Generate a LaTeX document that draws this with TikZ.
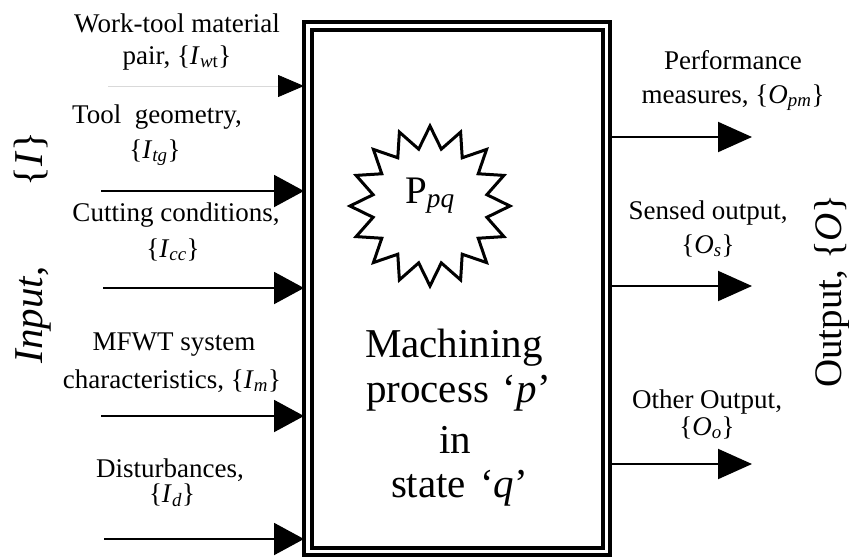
\documentclass[tikz,border=0pt]{standalone}
\usepackage{fontspec}
\setmainfont{Liberation Serif}
\usetikzlibrary{arrows.meta}
\tikzset{
  lbl/.style={font=\fontsize{27}{30}\selectfont, inner sep=0pt, outer sep=0pt, anchor=base},
  bigtxt/.style={font=\fontsize{41}{45}\selectfont, inner sep=0pt, outer sep=0pt, anchor=base west},
  sidetxt/.style={inner sep=0pt, outer sep=0pt, anchor=base, rotate=90},
  inarrow/.style={line width=2pt, -{Triangle[length=30pt,width=32pt]}},
  outarrow/.style={line width=2pt, -{Triangle[length=34pt,width=30pt]}},
  faintarrow/.style={line width=0.8pt, draw=black!15, -{Triangle[length=26pt,width=22pt,color=black]}},
  boxline/.style={draw, line width=4pt, inner sep=0pt, outer sep=0pt}
}
\begin{document}
\begin{tikzpicture}[x=1pt,y=-1pt]
\useasboundingbox (0,0) rectangle (849,557);
% double box
\node[boxline, minimum width=306pt, minimum height=533.5pt] (outer) at (457,288.25) {};
\node[boxline, minimum width=291pt, minimum height=518.5pt] (inner) at (457,288.75) {};
% star
\coordinate (starc) at (430,206);
\draw[line width=3pt, line join=miter] ([shift={(90:80)}]starc)
  \foreach \i in {1,...,31} { -- ([shift={({90+\i*11.25}:{69+11*cos(\i*180)})}]starc) } -- cycle;
\node[font=\fontsize{39}{42}\selectfont, inner sep=0pt, anchor=base] (ppq) at (430,203) {P\textsubscript{\textit{pq}}};
% center text
\node[bigtxt] (c1) at (365,357) {Machining};
\node[bigtxt] (c2) at (366,402) {process\hspace{14pt}‘\textit{p}’};
\node[bigtxt] (c3) at (439,453) {in};
\node[bigtxt] (c4) at (391,497) {state\hspace{14pt}‘\textit{q}’};
% side titles
\node[sidetxt, font=\fontsize{41}{44}\selectfont] (inp) at (42,247.5) {\textit{Input},\hspace{80pt}\{\textit{I}\}};
\node[sidetxt, font=\fontsize{39}{42}\selectfont] (outp) at (841,291) {Output, \{\textit{O}\}};
% input labels
\node[lbl] (wt1) at (177,32) {Work-tool material};
\node[lbl] (wt2) at (177,64) {pair, \{\textit{I}\textsubscript{\textit{w}t}\}};
\node[lbl] (tg1) at (157,123) {Tool\ \ geometry,};
\node[lbl] (tg2) at (155,158) {\{\textit{I}\textsubscript{\textit{tg}}\}};
\node[lbl] (cc1) at (176,221) {Cutting conditions,};
\node[lbl] (cc2) at (173,257) {\{\textit{I}\textsubscript{\textit{cc}}\}};
\node[lbl] (m1) at (174,350) {MFWT system};
\node[lbl] (m2) at (172,388) {characteristics, \{\textit{I}\textsubscript{\textit{m}}\}};
\node[lbl] (d1) at (170,477) {Disturbances,};
\node[lbl] (d2) at (172,502) {\{\textit{I}\textsubscript{\textit{d}}\}};
% output labels
\node[lbl] (pm1) at (733,69) {Performance};
\node[lbl] (pm2) at (733,103) {measures, \{\textit{O}\textsubscript{\textit{pm}}\}};
\node[lbl] (s1) at (708,219) {Sensed output,};
\node[lbl] (s2) at (708,253) {\{\textit{O}\textsubscript{\textit{s}}\}};
\node[lbl] (o1) at (707,408) {Other Output,};
\node[lbl] (o2) at (707,435) {\{\textit{O}\textsubscript{\textit{o}}\}};
% input arrows
\coordinate (iwt) at (108,86);
\coordinate (itg) at (101,191);
\coordinate (icc) at (103,288);
\coordinate (im) at (101,416);
\coordinate (id) at (104,539);
\draw[faintarrow] (iwt) -- (iwt -| outer.west);
\draw[inarrow] (itg) -- (itg -| outer.west);
\draw[inarrow] (icc) -- (icc -| outer.west);
\draw[inarrow] (im) -- (im -| outer.west);
\draw[inarrow] (id) -- (id -| outer.west);
% output arrows
\coordinate (opm) at (752,137);
\coordinate (os) at (752,286);
\coordinate (oo) at (752,464);
\draw[outarrow] (opm -| outer.east) -- (opm);
\draw[outarrow] (os -| outer.east) -- (os);
\draw[outarrow] (oo -| outer.east) -- (oo);
\end{tikzpicture}
\end{document}
